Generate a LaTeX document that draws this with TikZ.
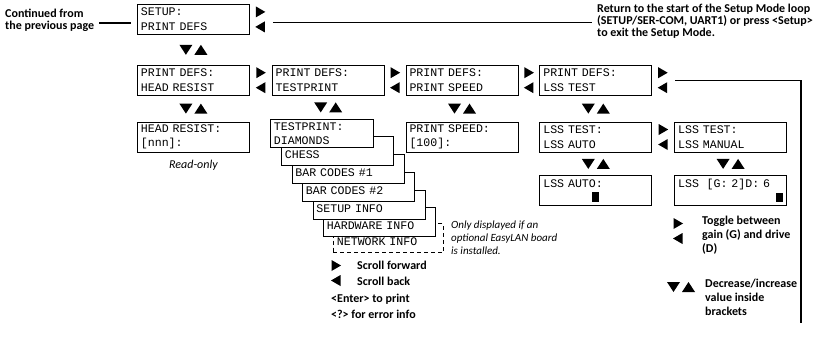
\documentclass[tikz,border=0pt]{standalone}
\usepackage{fontspec}
\setmainfont{Carlito}
\newfontfamily\lcdfont{Liberation Mono}
\usetikzlibrary{positioning,calc}

\tikzset{
  pics/lr/.style={code={
    \fill (-4.5,-13) -- (5,-7.5) -- (-4.5,-2) -- cycle;
    \fill (4.5,2) -- (-5,7.5) -- (4.5,13) -- cycle;}},
  pics/du/.style={code={
    \fill (-14,-5) -- (-1,-5) -- (-7.5,5) -- cycle;
    \fill (1,5) -- (14,5) -- (7.5,-5) -- cycle;}},
}

\begin{document}
\begin{tikzpicture}[
  x=1pt, y=-1pt,
  node distance=26pt and 21pt,
  screen/.style={draw, line width=0.8pt, fill=white, text width=105pt, inner xsep=3.5pt, inner ysep=1pt,
    minimum height=30pt, align=left, font=\lcdfont\fontsize{11.6}{14.5}\selectfont},
  card/.style={screen, minimum height=29pt, anchor=south west},
  note/.style={font=\bfseries\fontsize{12}{12}\selectfont, align=left, inner sep=0pt},
  legend/.style={note, font=\bfseries\fontsize{12}{14}\selectfont},
  remark/.style={font=\itshape\fontsize{11}{13}\selectfont, align=left, inner sep=0pt},
  link/.style={line width=1.3pt}
]
\useasboundingbox (0,0) rectangle (820,340);

% print defs menu
\node[screen, anchor=north west] (setup) at (137,4) {SETUP:\\PRINT DEFS};
\node[screen, below=30pt of setup] (pdhead) {PRINT DEFS:\\HEAD RESIST};
\node[screen, right=22pt of pdhead] (pdtest) {PRINT DEFS:\\TESTPRINT};
\node[screen, right=of pdtest] (pdspeed) {PRINT DEFS:\\PRINT SPEED};
\node[screen, right=of pdspeed] (pdlss) {PRINT DEFS:\\LSS TEST};

% values
\node[screen, below=of pdhead] (headres) {HEAD RESIST:\\{[nnn]:}};
\node[screen, below=of pdspeed] (pspeed) {PRINT SPEED:\\{[100]:}};
\node[screen, below=of pdlss] (lsstest) {LSS TEST:\\LSS AUTO};
\node[screen, right=22pt of lsstest] (lssman) {LSS TEST:\\LSS MANUAL};
\node[screen, below=23pt of lsstest] (lssauto) {LSS AUTO:\\\phantom{0000000}\rule{7pt}{9.5pt}};
\node[screen, below=23pt of lssman] (lssval) {LSS\ \ [G:\ 2]D:\ 6\\\phantom{00000000000000}\rule{7pt}{9.5pt}};

% test prints, back to front
\node[card, text width=103pt, dash pattern=on 4pt off 3pt] (netinfo) at (333,253) {\mbox{}\\NETWORK INFO};
\node[card] (hwinfo) at (323,237) {\mbox{}\\HARDWARE INFO};
\node[card] (setupinfo) at (312.5,220) {\mbox{}\\SETUP INFO};
\node[card] (barcodes2) at (302,202) {\mbox{}\\BAR CODES \#2};
\node[card] (barcodes1) at (291.5,184) {\mbox{}\\BAR CODES \#1};
\node[card] (chess) at (281,166) {\mbox{}\\CHESS};
\node[card, text width=96pt, minimum height=28pt] (testprint) at (270,148) {TESTPRINT:\\DIAMONDS};

% scroll keys
\pic at ([xshift=10.5pt]setup.east) {lr};
\pic at ([xshift=11pt]pdhead.east) {lr};
\pic at ([xshift=10.5pt]pdtest.east) {lr};
\pic at ([xshift=10.5pt]pdspeed.east) {lr};
\pic at ([xshift=10.5pt]pdlss.east) {lr};
\pic at ([xshift=11pt]lsstest.east) {lr};
\pic at ($(setup.south)!0.5!(pdhead.north)$) {du};
\pic at ($(pdhead.south)!0.5!(headres.north)$) {du};
\pic at ($(pdtest.south)!0.5!(pdtest.south |- testprint.north)$) {du};
\pic at ($(pdspeed.south)!0.5!(pspeed.north)$) {du};
\pic at ($(pdlss.south)!0.5!(lsstest.north)$) {du};
\pic at ($(lsstest.south)!0.5!(lssauto.north)$) {du};
\pic at ($(lssman.south)!0.5!(lssval.north)$) {du};

% notes
\node[note, anchor=west] (cont) at (5,20) {Continued from\\the previous page};
\node[note, anchor=west] (ret) at (597,21) {Return to the start of the Setup Mode loop\\(SETUP/SER-COM, UART1) or press <Setup>\\to exit the Setup Mode.};
\node[remark, font=\itshape\fontsize{12}{13}\selectfont, below=8pt of headres] (readonly) {Read-only};
\node[remark, anchor=west] (onlylan) at (451,238) {Only displayed if an\\optional EasyLAN board\\is installed.};

\node[note, anchor=west] (fwd) at (357,265) {Scroll forward};
\node[note, anchor=west] (back) at (357,281) {Scroll back};
\node[legend, anchor=north west, font=\bfseries\fontsize{12}{16}\selectfont] (keys) at (331,294) {<Enter> to print\\<?> for error info};
\pic at ($(fwd.west)!0.5!(back.west)+(-21,0)$) {lr};

\node[legend, anchor=north west] (toggle) at (702,216) {Toggle between\\gain (G) and drive\\(D)};
\node[legend, anchor=north west] (incdec) at (705,279) {Decrease/increase\\value inside\\brackets};
\pic at (678,231) {lr};
\pic at (681,287) {du};

% loop lines
\coordinate (setupout) at ([xshift=23pt,yshift=-3pt]setup.east);
\coordinate (loopend) at (801,323);
\draw[link, shorten <=5pt, shorten >=6pt] ([yshift=-3pt]cont.east) -- ([yshift=-3pt]cont.east -| setup.west);
\draw[link, shorten >=5pt] (setupout) -- (setupout -| ret.west);
\draw[link] ([xshift=23pt]pdlss.east) -| (loopend);
\end{tikzpicture}
\end{document}
